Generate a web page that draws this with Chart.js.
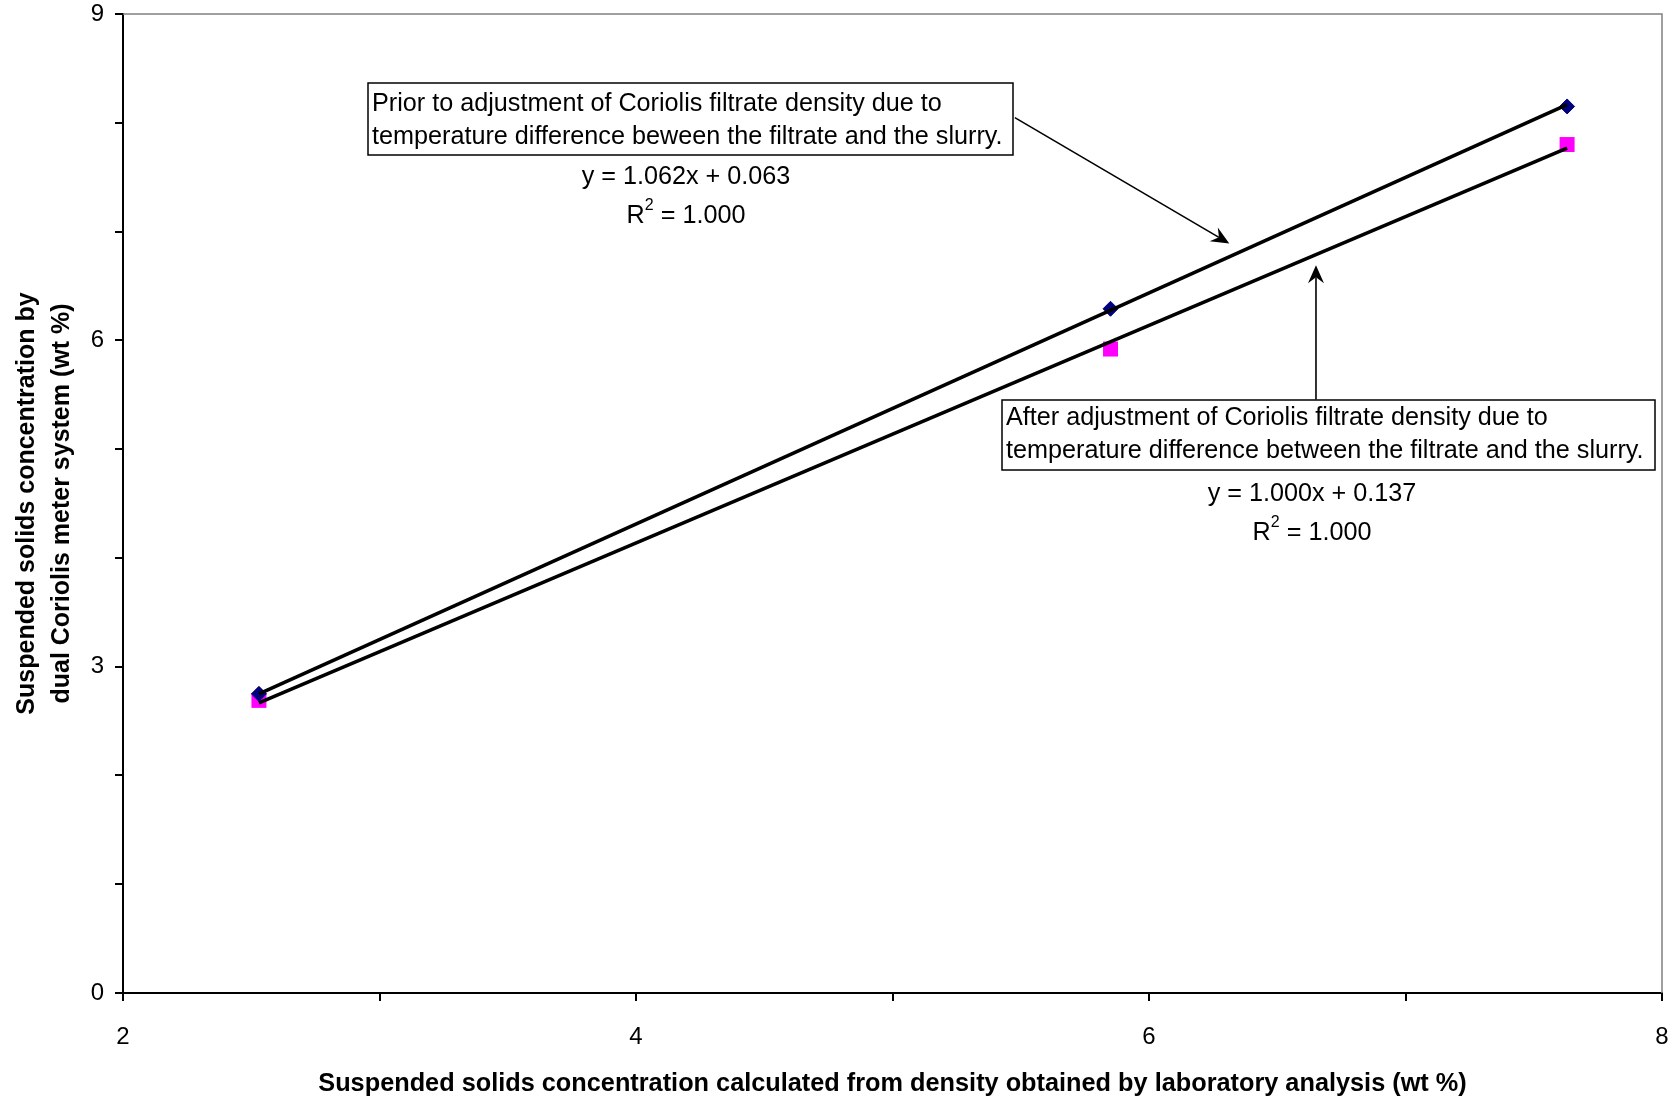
<!DOCTYPE html>
<html>
<head>
<meta charset="utf-8">
<script src="https://cdn.jsdelivr.net/npm/chart.js@4/dist/chart.umd.min.js"></script>
<style>
  html, body { margin: 0; padding: 0; background: #ffffff; }
  #wrap { width: 1675px; height: 1099px; }
</style>
</head>
<body>
<div id="wrap"><canvas id="c" width="1675" height="1099"></canvas></div>
<script>
// Laboratory-derived suspended solids (wt %) for the three samples
const labSolids = [2.53, 5.85, 7.63];
// Dual Coriolis readings before the filtrate density temperature correction
const coriolisPrior = [2.75, 6.29, 8.15];
// Dual Coriolis readings after the correction
const coriolisAfter = [2.69, 5.92, 7.80];

// Linear fits as reported on the chart
const fitPrior = { slope: 1.062, intercept: 0.063 };
const fitAfter = { slope: 1.000, intercept: 0.137 };

const xTicks = [2, 4, 6, 8];
const yTicks = [0, 3, 6, 9];

const FONT = "'Liberation Sans', Arial, Helvetica, sans-serif";

function points(xs, ys) {
  return xs.map((x, i) => ({ x: x, y: ys[i] }));
}
function fitLine(fit, xs) {
  const lo = Math.min(...xs), hi = Math.max(...xs);
  return [lo, hi].map(x => ({ x: x, y: fit.slope * x + fit.intercept }));
}

// Grey frame on top/right, text boxes, equations and arrows
const notes = {
  id: 'notes',
  afterDraw(chart) {
    const ctx = chart.ctx;
    const a = chart.chartArea;
    const xs = chart.scales.x, ys = chart.scales.y;
    ctx.save();

    ctx.strokeStyle = '#808080';
    ctx.lineWidth = 1.5;
    ctx.beginPath();
    ctx.moveTo(a.left, a.top);
    ctx.lineTo(a.right, a.top);
    ctx.lineTo(a.right, a.bottom);
    ctx.stroke();

    const font = '25.2px ' + FONT;
    function box(l, t, r, b, lines, tx, ty, gap) {
      ctx.fillStyle = '#ffffff';
      ctx.fillRect(l, t, r - l, b - t);
      ctx.strokeStyle = '#000000';
      ctx.lineWidth = 1.5;
      ctx.strokeRect(l, t, r - l, b - t);
      ctx.fillStyle = '#000000';
      ctx.font = font;
      ctx.textAlign = 'left';
      ctx.textBaseline = 'middle';
      lines.forEach((s, i) => ctx.fillText(s, tx, ty + i * gap));
    }
    function centered(s, x, y) {
      ctx.font = font;
      ctx.textAlign = 'center';
      ctx.textBaseline = 'middle';
      ctx.fillStyle = '#000000';
      ctx.fillText(s, x, y);
    }
    function rsq(val, x, y) {
      ctx.fillStyle = '#000000';
      ctx.textBaseline = 'middle';
      ctx.textAlign = 'left';
      const big = font, small = '16px ' + FONT;
      ctx.font = big; const wR = ctx.measureText('R').width;
      const tail = ' = ' + val;
      const wT = ctx.measureText(tail).width;
      ctx.font = small; const w2 = ctx.measureText('2').width;
      let x0 = x - (wR + w2 + wT) / 2;
      ctx.font = big; ctx.fillText('R', x0, y);
      ctx.font = small; ctx.fillText('2', x0 + wR, y - 10);
      ctx.font = big; ctx.fillText(tail, x0 + wR + w2, y);
    }
    function arrow(x1, y1, x2, y2) {
      const ang = Math.atan2(y2 - y1, x2 - x1);
      const len = 18, half = 8, notch = 12;
      ctx.strokeStyle = '#000000';
      ctx.lineWidth = 1.6;
      ctx.beginPath();
      ctx.moveTo(x1, y1);
      ctx.lineTo(x2 - Math.cos(ang) * notch, y2 - Math.sin(ang) * notch);
      ctx.stroke();
      ctx.save();
      ctx.translate(x2, y2);
      ctx.rotate(ang);
      ctx.fillStyle = '#000000';
      ctx.beginPath();
      ctx.moveTo(0, 0);
      ctx.lineTo(-len, -half);
      ctx.lineTo(-notch, 0);
      ctx.lineTo(-len, half);
      ctx.closePath();
      ctx.fill();
      ctx.restore();
    }

    // arrows point at the fitted lines (positions in data units)
    arrow(xs.getPixelForValue(5.477), ys.getPixelForValue(8.047),
          xs.getPixelForValue(6.313), ys.getPixelForValue(6.891));
    arrow(xs.getPixelForValue(6.651), ys.getPixelForValue(5.455),
          xs.getPixelForValue(6.651), ys.getPixelForValue(6.691));

    box(368, 83, 1013, 155,
        ['Prior to adjustment of Coriolis filtrate density due to',
         'temperature difference beween the filtrate and the slurry.'],
        372, 104, 33);
    centered('y = 1.062x + 0.063', 686, 177);
    rsq('1.000', 686, 216);

    box(1002, 400, 1655, 470,
        ['After adjustment of Coriolis filtrate density due to',
         'temperature difference between the filtrate and the slurry.'],
        1006, 418, 33);
    centered('y = 1.000x + 0.137', 1312, 494);
    rsq('1.000', 1312, 533);

    ctx.restore();
  }
};

new Chart(document.getElementById('c'), {
  data: {
    datasets: [
      {
        type: 'line',
        data: fitLine(fitPrior, labSolids),
        borderColor: '#000000',
        borderWidth: 3.6,
        pointRadius: 0,
        fill: false,
        order: 0
      },
      {
        type: 'line',
        data: fitLine(fitAfter, labSolids),
        borderColor: '#000000',
        borderWidth: 3.6,
        pointRadius: 0,
        fill: false,
        order: 0
      },
      {
        type: 'scatter',
        data: points(labSolids, coriolisPrior),
        pointStyle: 'rectRot',
        pointRadius: 7.5,
        backgroundColor: '#000080',
        borderColor: '#000080',
        borderWidth: 1,
        order: 1
      },
      {
        type: 'scatter',
        data: points(labSolids, coriolisAfter),
        pointStyle: 'rect',
        pointRadius: 10.6,
        backgroundColor: '#ff00ff',
        borderColor: '#ff00ff',
        borderWidth: 0,
        order: 2
      }
    ]
  },
  options: {
    responsive: false,
    animation: false,
    devicePixelRatio: 1,
    layout: { padding: { left: 0, top: 14, right: 13, bottom: 0 } },
    plugins: {
      legend: { display: false },
      tooltip: { enabled: false }
    },
    scales: {
      x: {
        type: 'linear',
        min: 2, max: 8,
        afterFit(s) {
          s.height = 106;
          s.paddingLeft = 0; s.paddingRight = 0;
          s.paddingTop = 0; s.paddingBottom = 0;
        },
        border: { display: true, color: '#000000', width: 2 },
        grid: { drawOnChartArea: false, color: '#000000', lineWidth: 2, tickLength: 8 },
        ticks: {
          stepSize: 1,
          padding: 22,
          color: '#000000',
          font: { family: FONT, size: 24 },
          maxRotation: 0,
          callback: v => xTicks.includes(v) ? String(v) : ''
        },
        title: {
          display: true,
          text: 'Suspended solids concentration calculated from density obtained by laboratory analysis (wt %)',
          color: '#000000',
          font: { family: FONT, size: 25.3, weight: 'bold' },
          padding: { top: 0, bottom: 0 }
        }
      },
      y: {
        type: 'linear',
        min: 0, max: 9,
        afterFit(s) {
          s.width = 123;
          s.paddingLeft = 0; s.paddingRight = 0;
          s.paddingTop = 0; s.paddingBottom = 0;
        },
        border: { display: true, color: '#000000', width: 2 },
        grid: { drawOnChartArea: false, color: '#000000', lineWidth: 2, tickLength: 8 },
        ticks: {
          stepSize: 1,
          padding: 11,
          color: '#000000',
          font: { family: FONT, size: 24 },
          callback: v => yTicks.includes(v) ? String(v) : ''
        },
        title: {
          display: true,
          text: ['Suspended solids concentration by', 'dual Coriolis meter system (wt %)'],
          color: '#000000',
          font: { family: FONT, size: 25, weight: 'bold', lineHeight: '35px' },
          padding: { top: 10, bottom: 0 }
        }
      }
    }
  },
  plugins: [notes]
});
</script>
</body>
</html>
